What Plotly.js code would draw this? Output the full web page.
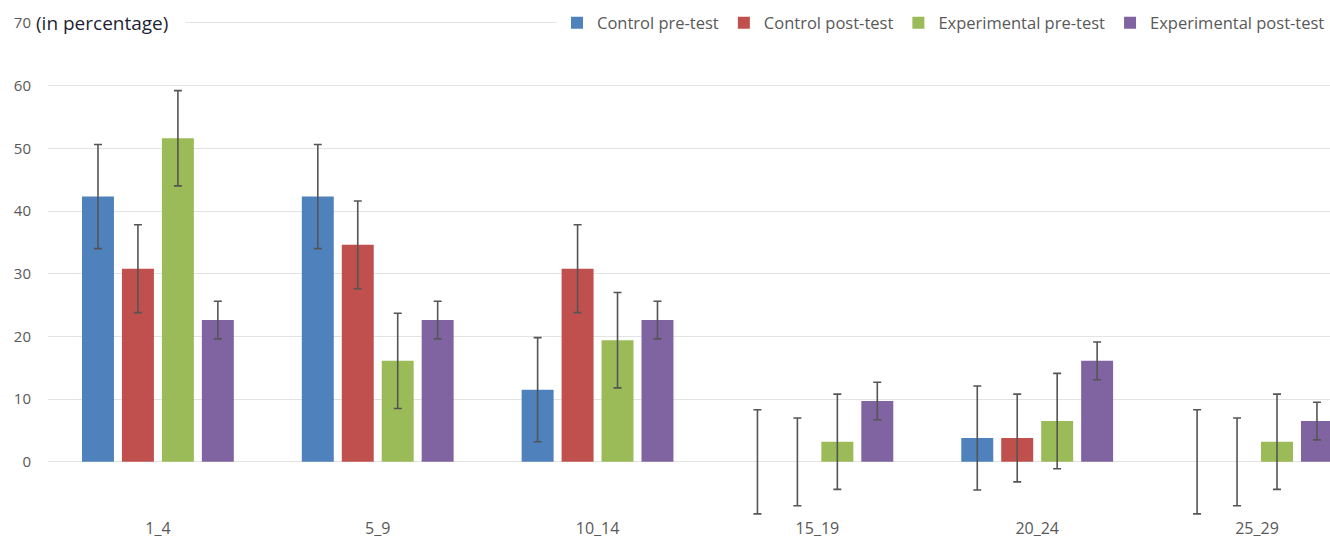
<!DOCTYPE html>
<html>
<head>
<meta charset="utf-8">
<script src="https://cdn.plot.ly/plotly-3.0.1.min.js"></script>
<style>html,body{margin:0;padding:0;background:#fff;} #chart{width:1330px;height:538px;}</style>
</head>
<body>
<div id="chart"></div>
<script>
var categories = ["1_4", "5_9", "10_14", "15_19", "20_24", "25_29"];
var seriesNames = ["Control pre-test", "Control post-test", "Experimental pre-test", "Experimental post-test"];
var controlPre = [42.3, 42.3, 11.5, 0, 3.8, 0];
var controlPost = [30.8, 34.6, 30.8, 0, 3.8, 0];
var expPre = [51.6, 16.1, 19.4, 3.2, 6.5, 3.2];
var expPost = [22.6, 22.6, 22.6, 9.7, 16.1, 6.5];
var controlPreErr = [8.3, 8.3, 8.3, 8.3, 8.3, 8.3];
var controlPostErr = [7.0, 7.0, 7.0, 7.0, 7.0, 7.0];
var expPreErr = [7.6, 7.6, 7.6, 7.6, 7.6, 7.6];
var expPostErr = [3.0, 3.0, 3.0, 3.0, 3.0, 3.0];
var yTicks = [0, 10, 20, 30, 40, 50, 60, 70];
var yAxisNote = "(in percentage)";

var colors = ["#4F81BD", "#C0504D", "#9BBB59", "#8064A2"];
var values = [controlPre, controlPost, expPre, expPost];
var errs = [controlPreErr, controlPostErr, expPreErr, expPostErr];

var traces = values.map(function (v, i) {
  return {
    type: "bar",
    name: seriesNames[i],
    x: categories,
    y: v,
    marker: {color: colors[i]},
    error_y: {type: "data", array: errs[i], visible: true, color: "#555555", thickness: 1.6, width: 4},
    hoverinfo: "x+y+name"
  };
});

var font = "Open Sans, Liberation Sans, Arial, sans-serif";
var layout = {
  width: 1330,
  height: 538,
  margin: {l: 48, r: 0, t: 21, b: 21},
  paper_bgcolor: "#ffffff",
  plot_bgcolor: "#ffffff",
  barmode: "group",
  bargap: 0.273,
  bargroupgap: 0.2,
  showlegend: true,
  legend: {
    orientation: "h",
    x: 1.0, xanchor: "right",
    y: 0.996, yanchor: "middle",
    bgcolor: "#ffffff",
    font: {family: font, size: 16.5, color: "#595959"},
    traceorder: "normal",
    itemclick: false
  },
  xaxis: {
    type: "category",
    range: [-0.5, 5.332],
    showgrid: false,
    showline: false,
    zeroline: false,
    ticks: "",
    tickfont: {family: font, size: 16, color: "#595959"},
    fixedrange: true
  },
  yaxis: {
    range: [-8.8, 70.3],
    tickvals: yTicks,
    ticktext: yTicks.map(String),
    showgrid: true,
    gridcolor: "#E3E3E3",
    gridwidth: 1,
    zeroline: false,
    showline: false,
    ticks: "",
    ticklabelstandoff: 16,
    tickfont: {family: font, size: 15, color: "#595959"},
    fixedrange: true
  },
  annotations: [{
    text: yAxisNote,
    xref: "paper", yref: "y",
    x: -0.0109, y: 70,
    xanchor: "left", yanchor: "middle",
    showarrow: false,
    align: "left",
    width: 148,
    bgcolor: "#ffffff",
    font: {family: font, size: 19, color: "#231F36"}
  }]
};

Plotly.newPlot("chart", traces, layout, {displayModeBar: false, responsive: false});
</script>
</body>
</html>
